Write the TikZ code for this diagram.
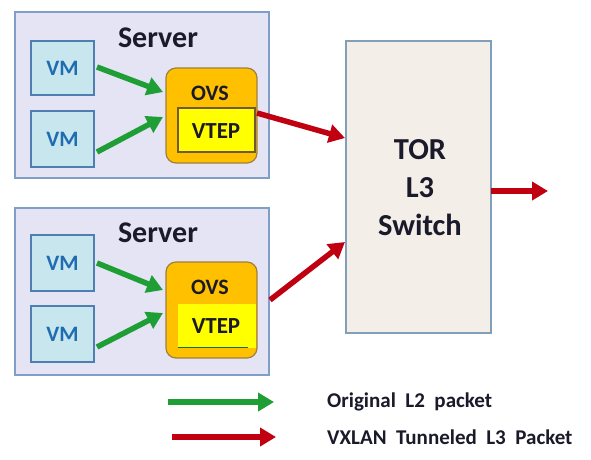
\documentclass[tikz,border=0pt]{standalone}
\usepackage{fontspec}
\setmainfont{Carlito}
\usetikzlibrary{arrows.meta}
\definecolor{srvfill}{HTML}{E4E4F4}
\definecolor{srvline}{HTML}{7F9FC6}
\definecolor{vmfill}{HTML}{C8E6EE}
\definecolor{vmline}{HTML}{4F7FB0}
\definecolor{vmtext}{HTML}{1F6CB0}
\definecolor{ovsfill}{HTML}{FFC000}
\definecolor{ovsline}{HTML}{A08040}
\definecolor{vtepfill}{HTML}{FFFF00}
\definecolor{swfill}{HTML}{F3EEE8}
\definecolor{swline}{HTML}{7FA0B8}
\definecolor{grn}{HTML}{1E9E34}
\definecolor{red}{HTML}{C00010}
\definecolor{dark}{HTML}{1A1A2A}
\tikzset{
  px/.style={x=1pt,y=-1pt},
  server/.style={draw=srvline,fill=srvfill,line width=1.2pt},
  vmbox/.style={draw=vmline,fill=vmfill,line width=1.2pt},
  ovsbox/.style={draw=ovsline,fill=ovsfill,line width=1.2pt,rounded corners=10pt},
  lbl/.style={font=\fontsize{#1}{#1}\selectfont\bfseries,inner sep=0pt},
  garrow/.style={draw=grn,line width=5.5pt,-{Triangle[length=16pt,width=18pt]}},
  rarrow/.style={draw=red,line width=5.5pt,-{Triangle[length=16pt,width=18pt]}},
}
\begin{document}
\begin{tikzpicture}[px]
\useasboundingbox[fill=white] (0,0) rectangle (591,459);
% Server 1
\draw[server] (15,12) rectangle (269,178);
\node[lbl=30,text=dark] (s1) at (158,38) {Server};
\draw[vmbox] (31,41) rectangle (94,95) node[midway,lbl=22,text=vmtext] (vm11) {VM};
\draw[vmbox] (31,111) rectangle (94,167) node[midway,lbl=22,text=vmtext] (vm12) {VM};
\draw[ovsbox] (166,68) rectangle (257,163);
\node[lbl=22,text=dark] (ovs1) at (210,93) {OVS};
\draw[draw=ovsline!70!black,fill=vtepfill,line width=1.2pt] (178,108) rectangle (255,152);
\node[lbl=23,text=dark] (vtep1) at (216,131) {VTEP};
\coordinate (o1a) at (163,92);
\coordinate (o1b) at (163,117);
\draw[garrow] (97,67) -- (o1a);
\draw[garrow] (97,152) -- (o1b);
% Server 2
\draw[server] (15,208) rectangle (269,375);
\node[lbl=30,text=dark] (s2) at (158,233) {Server};
\draw[vmbox] (31,235) rectangle (94,291) node[midway,lbl=22,text=vmtext] (vm21) {VM};
\draw[vmbox] (31,306) rectangle (94,362) node[midway,lbl=22,text=vmtext] (vm22) {VM};
\draw[ovsbox] (166,262) rectangle (257,358);
\fill[vtepfill] (178,304) rectangle (256.4,348);
\draw[grn!70!black,line width=0.8pt] (178,347.5) -- (248,347.5);
\node[lbl=22,text=dark] (ovs2) at (210,287) {OVS};
\node[lbl=23,text=dark] (vtep2) at (216,326) {VTEP};
\coordinate (o2a) at (163,290);
\coordinate (o2b) at (163,313);
\draw[garrow] (97,263) -- (o2a);
\draw[garrow] (97,347) -- (o2b);
% Switch
\draw[draw=swline,fill=swfill,line width=1.2pt] (346,41) rectangle (491,333);
\node[lbl=30,text=dark,align=center,font=\fontsize{30.5}{38}\selectfont\bfseries] (sw) at (420,188) {TOR\\L3\\Switch};
\coordinate (sw1) at (345,138);
\coordinate (sw2) at (345,242);
\coordinate (out) at (548,191);
\draw[rarrow] (257,113) -- (sw1);
\draw[rarrow] (270,300) -- (sw2);
\draw[rarrow] (491,191) -- (out);
% Legend
\coordinate (lg1) at (168,402);
\coordinate (lg1e) at (274,402);
\coordinate (lg2) at (172,437);
\coordinate (lg2e) at (276,437);
\draw[garrow] (lg1) -- (lg1e);
\draw[rarrow] (lg2) -- (lg2e);
\node[lbl=21,text=dark,anchor=west] (t1) at (327,402) {Original\ \ L2\ \ packet};
\node[lbl=21,text=dark,anchor=west] (t2) at (327,437) {VXLAN\ \ Tunneled\ \ L3\ \ Packet};
\end{tikzpicture}
\end{document}
